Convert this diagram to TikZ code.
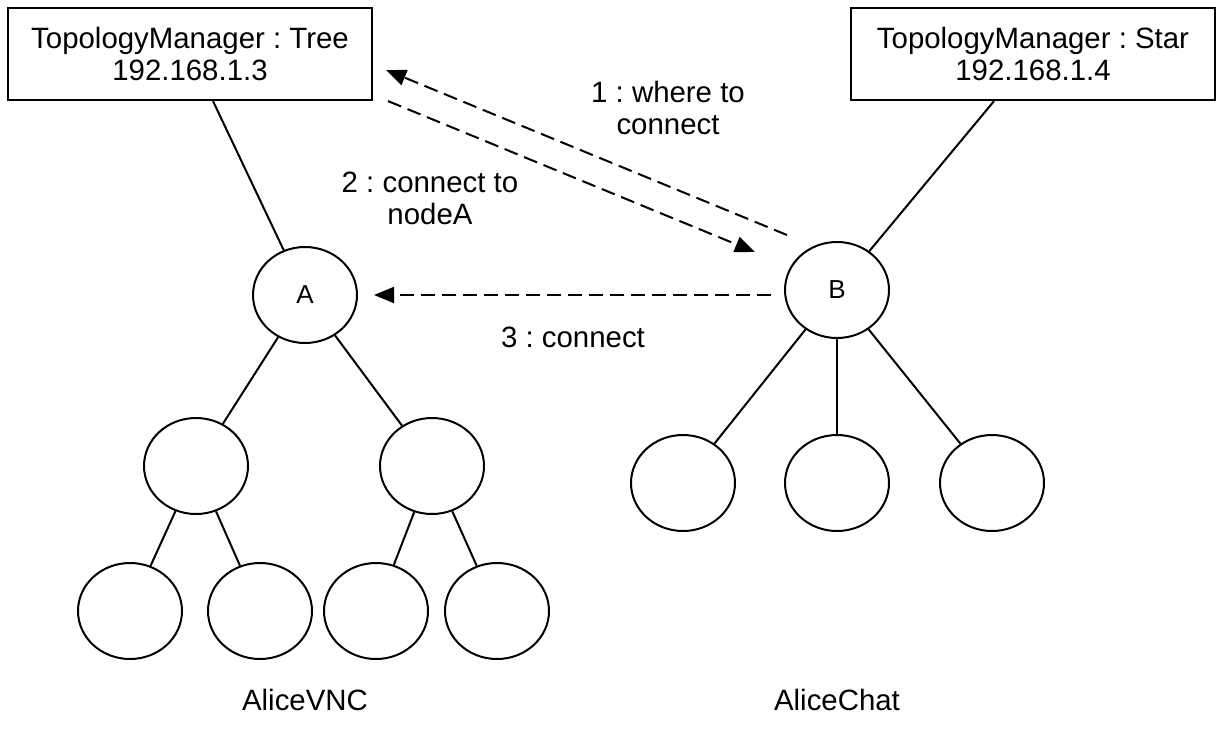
\documentclass[tikz,border=0pt]{standalone}
\usepackage{fontspec}
\setmainfont{Liberation Sans}
\usetikzlibrary{arrows.meta, shapes.geometric}
\frenchspacing

\begin{document}
\begin{tikzpicture}[x=0.5pt, y=-0.5pt, line width=1pt,
	font=\fontsize{14.7}{16}\selectfont,
	manager/.style={draw, line width=1.1pt, minimum width=182pt, minimum height=46pt, align=center, inner sep=0pt},
	peer/.style={draw, ellipse, minimum width=52pt, minimum height=48pt, inner sep=0pt, font=\fontsize{13}{15}\selectfont},
	msg/.style={dash pattern=on 7pt off 3.5pt, line width=1pt, -{Triangle[length=10pt, width=8pt]}},
	lbl/.style={align=center}]
	\useasboundingbox (0,0) rectangle (1222,740);

	\node [manager] (tree) at (190,54) {TopologyManager : Tree\\192.168.1.3};
	\node [manager] (star) at (1033,54) {TopologyManager : Star\\192.168.1.4};

	\node [peer] (A) at (305,295) {A};
	\node [peer] (A1) at (196,466) {};
	\node [peer] (A2) at (432,466) {};
	\node [peer] (A11) at (130,611) {};
	\node [peer] (A12) at (260,611) {};
	\node [peer] (A21) at (376,611) {};
	\node [peer] (A22) at (497,611) {};

	\node [peer] (B) at (837,290) {B};
	\node [peer] (B1) at (683,483) {};
	\node [peer] (B2) at (837,483) {};
	\node [peer] (B3) at (992,483) {};

	\draw ([xshift=11.5pt]tree.south) -- (A);
	\draw ([xshift=-19.5pt]star.south) -- (B);
	\draw (A) -- (A1);
	\draw (A) -- (A2);
	\draw (A1) -- (A11);
	\draw (A1) -- (A12);
	\draw (A2) -- (A21);
	\draw (A2) -- (A22);
	\draw (B) -- (B1);
	\draw (B) -- (B2);
	\draw (B) -- (B3);

	\draw [msg] ([shift={(-50,-55)}]B.center) -- ([shift={(13,16)}]tree.east);
	\draw [msg] ([shift={(15,0)}]tree.south east) -- ([shift={(-82,-38)}]B.center);
	\draw [msg] ([shift={(-13,5)}]B.west) -- ([shift={(16,0)}]A.east);

	\node [lbl] (where) at (668,108) {1 : where to\\connect};
	\node [lbl] (connto) at (430,198) {2 : connect to\\nodeA};
	\node (conn) at (573,337) {3 : connect};
	\node (vnc) at (305,700) {AliceVNC};
	\node (chat) at (837,700) {AliceChat};
\end{tikzpicture}
\end{document}
